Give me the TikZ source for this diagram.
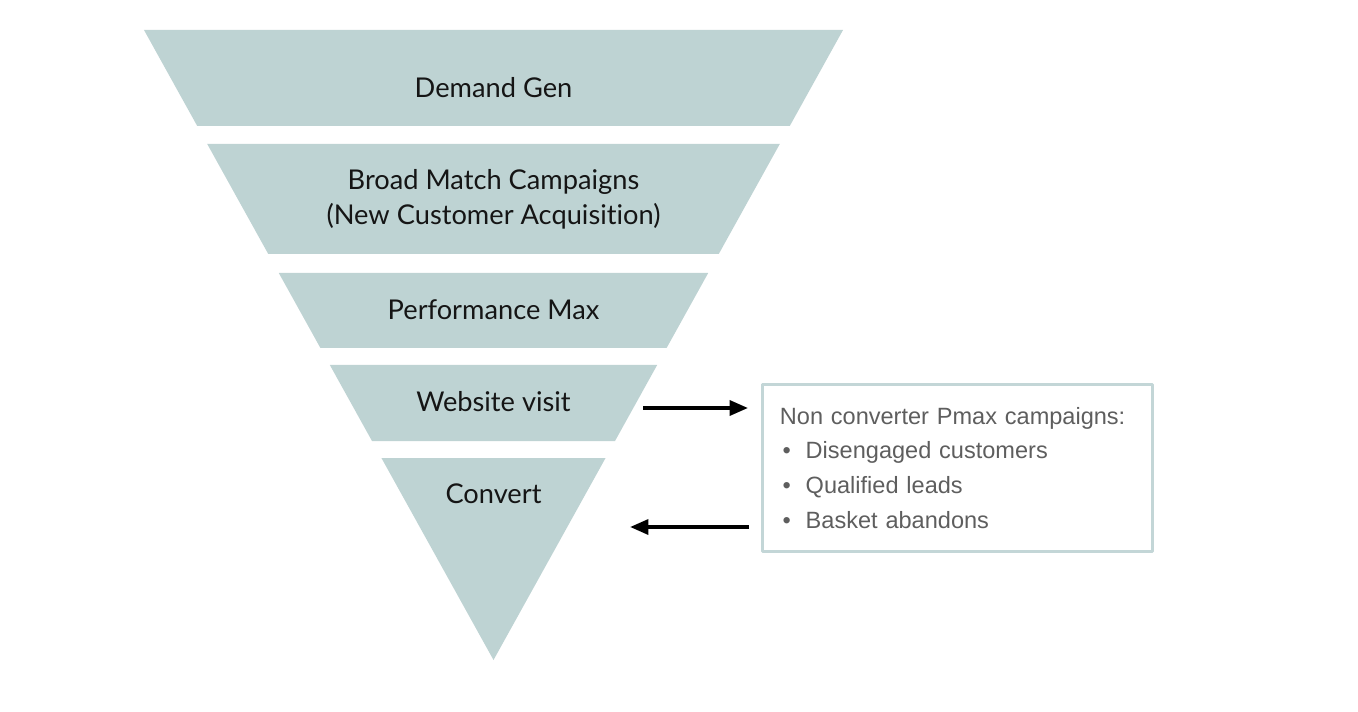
\documentclass[tikz,border=0pt]{standalone}
\usepackage{fontspec}
\setmainfont{Lato}[Ligatures=NoCommon]
\newfontfamily\boxfont{Liberation Sans}
\usetikzlibrary{arrows.meta,positioning}
\definecolor{funnel}{HTML}{BED3D3}
\definecolor{boxline}{HTML}{C3D6D7}
\definecolor{boxtext}{HTML}{5E5E5E}
\definecolor{ink}{HTML}{151515}
\tikzset{
  every picture/.style={line join=round, >={Triangle[length=10.5pt,width=8.5pt]}},
  layer/.style={fill=funnel, draw=none},
  stage/.style={font=\fontsize{15.5}{19.8}\selectfont, text=ink, align=center},
  infobox/.style={draw=boxline, line width=1.6pt, minimum width=7.8cm, minimum height=3.34cm,
    inner sep=0pt, font=\boxfont\fontsize{13.4}{19.8}\selectfont, text=boxtext, align=left, text width=7.1cm},
  flow/.style={->, line width=2.1pt},
}
\newcommand{\bul}{\makebox[14.7pt][l]{\hspace{1.5pt}\textbullet}}

\begin{document}
\begin{tikzpicture}[x=0.02cm,y=-0.02cm]
\useasboundingbox (0,0) rectangle (1358,712);
\foreach \ya/\yb in {30/126,144/254,273/348,365/441,458/660}{\pgfmathsetmacro\wa{(660-\ya)*0.5548} \pgfmathsetmacro\wb{(660-\yb)*0.5548} \fill[layer] (493.5-\wa,\ya) -- (493.5+\wa,\ya) -- (493.5+\wb,\yb) -- (493.5-\wb,\yb) -- cycle;}
\node[stage] (demand) at (493.5,88) {Demand Gen};
\node[stage] (broad) at (493.5,199) {Broad Match Campaigns\\(New Customer Acquisition)};
\node[stage] (pmax) at (493.5,310) {Performance Max};
\node[stage] (visit) at (493.5,402) {Website visit};
\node[stage] (convert) at (493.5,494) {Convert};
\node[infobox, anchor=north west] (info) at (761,383) {Non converter Pmax campaigns:\\ \bul Disengaged customers\\ \bul Qualified leads\\ \bul Basket abandons};
\coordinate (vout) at (643,408);
\coordinate (cin) at (630,527);
\draw[flow] (vout) -- ([xshift=-0.26cm]info.west |- vout);
\draw[flow] ([xshift=-0.24cm]info.west |- cin) -- (cin);
\end{tikzpicture}
\end{document}
